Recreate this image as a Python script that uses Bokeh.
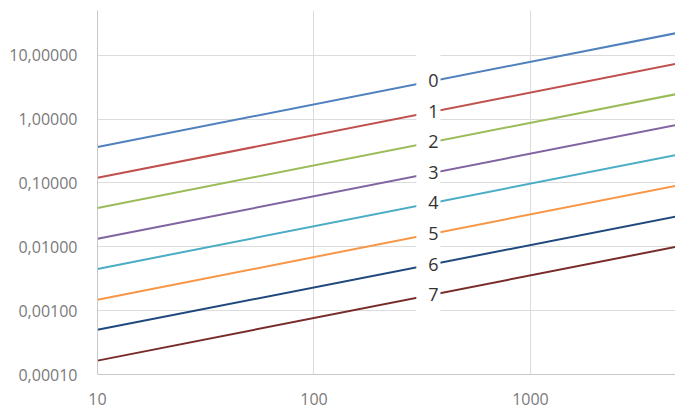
from bokeh.plotting import figure
from bokeh.models import FixedTicker, CustomJSTickFormatter, Range1d
from bokeh.embed import file_html
from bokeh.resources import INLINE
from bokeh.core.properties import value
import math

# Data
series_names = ["0", "1", "2", "3", "4", "5", "6", "7"]
x_points = [10, 5000]
y_at_10 = [0.365, 0.12, 0.0405, 0.0133, 0.0045, 0.00148, 0.0005, 0.000165]
y_at_5000 = [23.0, 7.6, 2.55, 0.84, 0.285, 0.094, 0.031, 0.0104]
colors = ["#4F81BD", "#C0504D", "#9BBB59", "#8064A2", "#4BACC6", "#F79646", "#1F497D", "#772C2A"]
label_x = 356
gap_x = [297, 384]
gap_y = [0.0008, 15]
y_ticks = [0.0001, 0.001, 0.01, 0.1, 1, 10]
x_ticks = [10, 100, 1000]

p = figure(width=675, height=408, x_axis_type="log", y_axis_type="log",
           x_range=Range1d(10, 4677), y_range=Range1d(0.0001, 50),
           output_backend="svg", toolbar_location=None)
p.min_border_left = 97
p.min_border_right = 0
p.min_border_top = 10
p.min_border_bottom = 34
p.outline_line_color = None
p.background_fill_color = "white"
p.border_fill_color = "white"

for i, name in enumerate(series_names):
    p.line(x_points, [y_at_10[i], y_at_5000[i]], line_color=colors[i], line_width=2)

# white gap column behind labels
p.quad(left=[gap_x[0]], right=[gap_x[1]], bottom=[gap_y[0]], top=[gap_y[1]],
       fill_color="white", line_color=None)

# labels on the lines
lx = []
ly = []
for i in range(len(series_names)):
    t = (math.log10(label_x) - math.log10(x_points[0])) / (math.log10(x_points[1]) - math.log10(x_points[0]))
    lv = math.log10(y_at_10[i]) + t * (math.log10(y_at_5000[i]) - math.log10(y_at_10[i]))
    lx.append(label_x)
    ly.append(10 ** lv)
p.text(x=lx, y=ly, text=series_names, text_align="center", text_baseline="middle",
       text_font_size="18px", text_color="#333333", text_font=value("Open Sans"))

p.yaxis.ticker = FixedTicker(ticks=y_ticks, minor_ticks=[])
p.xaxis.ticker = FixedTicker(ticks=x_ticks, minor_ticks=[])
p.yaxis.formatter = CustomJSTickFormatter(code="return tick.toFixed(5).replace('.', ',');")
p.xaxis.formatter = CustomJSTickFormatter(code="return String(Math.round(tick));")

for ax in (p.xaxis, p.yaxis):
    ax.major_tick_line_color = None
    ax.minor_tick_line_color = None
    ax.axis_line_color = "#C8C8C8"
    ax.major_label_text_color = "#7A7A7A"
    ax.major_label_text_font = "Open Sans"
    ax.major_label_text_font_size = "16px"
p.yaxis.major_label_standoff = 14
p.xaxis.major_label_standoff = 12

p.xgrid.grid_line_color = "#DCDCDC"
p.ygrid.grid_line_color = "#DCDCDC"
p.xgrid.ticker = FixedTicker(ticks=x_ticks, minor_ticks=[])
p.ygrid.ticker = FixedTicker(ticks=y_ticks, minor_ticks=[])

open("out.html", "w").write(file_html(p, INLINE))
